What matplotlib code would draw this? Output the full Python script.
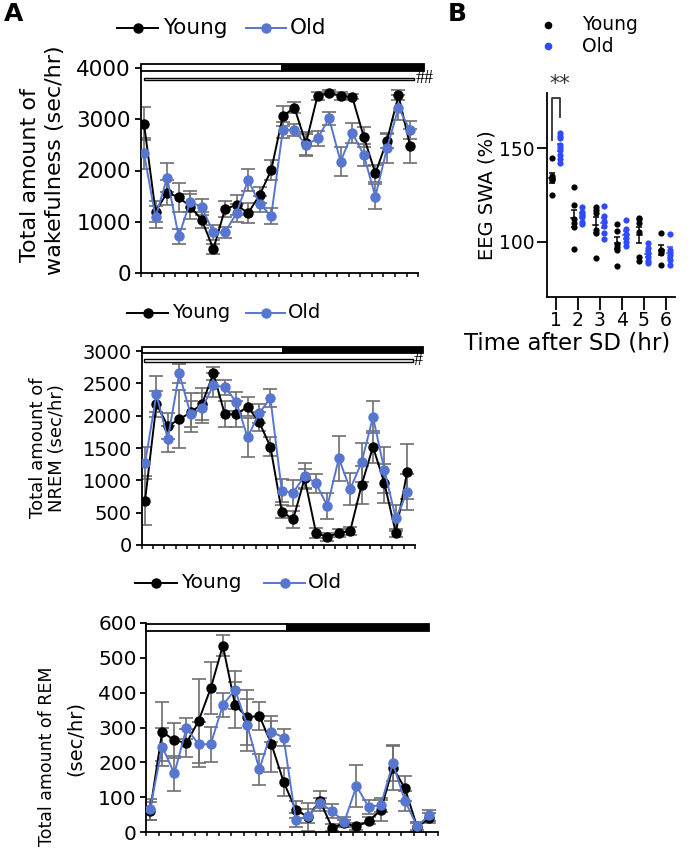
import numpy as np
import matplotlib
matplotlib.use("Agg")
import matplotlib.pyplot as plt
from matplotlib.patches import Rectangle
from matplotlib.lines import Line2D

plt.rcParams['font.family'] = ['DejaVu Sans']

# ---------------- data ----------------
hours = np.arange(24)

wake_young = [2917, 1200, 1569, 1478, 1297, 1037, 467, 1245, 1329, 1167, 1523, 2010,
              3060, 3228, 2528, 3455, 3520, 3455, 3436, 2658, 1945, 2580, 3468, 2483]
wake_young_err = [320, 200, 250, 280, 250, 150, 100, 160, 200, 200, 150, 200,
                  200, 110, 230, 80, 50, 80, 50, 200, 160, 150, 100, 330]
wake_old = [2334, 1089, 1860, 713, 1394, 1284, 791, 791, 1167, 1815, 1348, 1115,
            2788, 2788, 2496, 2626, 3015, 2172, 2736, 2302, 1491, 2431, 3228, 2788]
wake_old_err = [300, 220, 280, 140, 200, 160, 150, 100, 180, 220, 150, 160,
                150, 120, 210, 150, 120, 280, 200, 220, 250, 280, 250, 180]

nrem_young = [686, 2180, 1840, 1943, 2050, 2180, 2654, 2020, 2020, 2138, 1906, 1520,
              515, 397, 1031, 190, 119, 190, 217, 928, 1520, 954, 190, 1134]
nrem_young_err = [380, 200, 200, 450, 300, 250, 100, 200, 200, 150, 150, 150,
                  100, 130, 150, 80, 60, 60, 60, 300, 250, 300, 60, 430]
nrem_old = [1263, 2330, 1639, 2654, 2020, 2113, 2474, 2438, 2216, 1665, 2036, 2268,
            839, 809, 1071, 954, 603, 1340, 865, 1278, 1979, 1160, 413, 815]
nrem_old_err = [250, 280, 200, 150, 200, 230, 180, 120, 150, 300, 150, 140,
                180, 200, 200, 150, 200, 350, 250, 300, 250, 350, 200, 280]

rem_young = [60, 288, 263, 256, 319, 413, 535, 365, 329, 334, 252, 144,
             64, 43, 89, 12, 25, 16, 32, 62, 185, 125, 14, 40]
rem_young_err = [25, 85, 50, 40, 120, 75, 30, 65, 80, 40, 80, 40,
                 25, 40, 30, 10, 10, 10, 10, 30, 65, 35, 15, 15]
rem_old = [65, 245, 168, 298, 252, 252, 365, 408, 307, 180, 288, 271,
           35, 45, 84, 60, 29, 132, 72, 77, 197, 89, 16, 48]
rem_old_err = [30, 55, 50, 30, 65, 50, 35, 55, 75, 45, 30, 25,
               20, 20, 15, 20, 15, 60, 20, 20, 50, 30, 10, 15]

swa_hours = [1, 2, 3, 4, 5, 6]
swa_young = [[144.6, 135.2, 133.9, 133.0, 125.0, 133.5],
             [129.4, 119.6, 112.2, 110.2, 108.0, 96.1],
             [118.7, 117.0, 115.5, 106.3, 104.8, 91.1],
             [109.5, 105.9, 99.0, 97.3, 95.6, 87.2],
             [112.5, 111.9, 110.2, 105.4, 92.0, 89.8],
             [104.8, 95.6, 94.8, 94.1, 87.5]]
swa_old = [[158.0, 156.6, 155.4, 151.8, 149.1, 146.4, 144.1, 142.0],
           [118.7, 116.1, 114.8, 113.4, 110.7, 109.3],
           [119.3, 113.8, 111.2, 108.4, 104.8, 101.3],
           [111.6, 106.6, 104.1, 101.8, 99.7, 97.7],
           [99.1, 96.5, 94.1, 92.0, 89.8, 88.8],
           [104.1, 95.6, 92.9, 90.2, 87.5]]

# ---------------- figure ----------------
W, H = 691, 849
fig = plt.figure(figsize=(W / 100, H / 100), dpi=100)

BLACK = 'black'
BLUE = '#5776CF'
BRIGHT_BLUE = '#2F4BFF'
GRAY = '#6E6E6E'


def px_axes(x0, y0, x1, y1):
    return fig.add_axes([x0 / W, 1 - y1 / H, (x1 - x0) / W, (y1 - y0) / H])


def ftext(x, y, s, **kw):
    return fig.text(x / W, 1 - y / H, s, **kw)


def legend_row(y, yx0, yx1, ytx, ox0, ox1, otx, fs):
    for (x0, x1, tx, col, lab) in [(yx0, yx1, ytx, BLACK, 'Young'),
                                   (ox0, ox1, otx, BLUE, 'Old')]:
        fig.add_artist(Line2D([x0 / W, x1 / W], [1 - y / H] * 2, color=col, lw=1.4))
        fig.add_artist(Line2D([(x0 + x1) / 2 / W], [1 - y / H], marker='o',
                              color=col, markersize=6.5, lw=0))
        ftext(tx, y, lab, fontsize=fs, va='center', ha='left')


def line_panel(ax, young, yerr, old, oerr, ymax, yticks, fs, xlim, spine_right):
    ax.errorbar(hours, young, yerr=yerr, fmt='none', ecolor=GRAY, elinewidth=1.2,
                capsize=5, capthick=1.2, zorder=1)
    ax.errorbar(hours, old, yerr=oerr, fmt='none', ecolor=GRAY, elinewidth=1.2,
                capsize=5, capthick=1.2, zorder=1)
    ax.plot(hours, young, '-o', color=BLACK, lw=1.4, markersize=6.5, zorder=3)
    ax.plot(hours, old, '-o', color=BLUE, lw=1.4, markersize=6.5, zorder=4)
    ax.set_xlim(*xlim)
    ax.set_ylim(0, ymax)
    ax.set_yticks(yticks)
    ax.set_xticks(np.arange(25) - 0.3)
    ax.set_xticklabels([])
    for s in ['top', 'right']:
        ax.spines[s].set_visible(False)
    for s in ['left', 'bottom']:
        ax.spines[s].set_linewidth(1.3)
    ax.spines['bottom'].set_bounds(xlim[0], spine_right)
    ax.tick_params(axis='y', direction='out', length=4, width=1.3, labelsize=fs, pad=3)
    ax.tick_params(axis='x', direction='out', length=2.8, width=1.1)
    ax.patch.set_alpha(0)


def light_dark_bar(ax, x0, xm, x1, yb, yt):
    tr = ax.get_xaxis_transform()
    ax.add_patch(Rectangle((x0, yb), xm - x0, yt - yb, transform=tr, facecolor='white',
                           edgecolor='black', lw=1.3, clip_on=False, zorder=5))
    ax.add_patch(Rectangle((xm, yb), x1 - xm, yt - yb, transform=tr, facecolor='black',
                           edgecolor='black', lw=1.3, clip_on=False, zorder=5))


def double_line(ax, x0, x1, yb, yt, mark, xm):
    tr = ax.get_xaxis_transform()
    ax.add_patch(Rectangle((x0, yb), x1 - x0, yt - yb, transform=tr, facecolor='white',
                           edgecolor='black', lw=1.0, clip_on=False, zorder=5))
    ax.text(xm, (yb + yt) / 2, mark, transform=tr, fontsize=13,
            family='Liberation Serif', va='center', ha='left')


# ---- Wakefulness ----
ax1 = px_axes(140.5, 68, 425.1, 273)
line_panel(ax1, wake_young, wake_young_err, wake_old, wake_old_err, 4000,
           [0, 1000, 2000, 3000, 4000], 15.5, (-0.3, 24.3), 23.7)
light_dark_bar(ax1, -0.3, 11.95, 24.2, 0.987, 1.018)
double_line(ax1, 0.0, 23.3, 0.940, 0.953, '##', 23.45)
legend_row(28, 117, 158, 163, 246, 286, 290, 15.5)
ftext(30, 175, 'Total amount of', rotation=90, ha='center', va='center', fontsize=16)
ftext(55, 160, 'wakefulness (sec/hr)', rotation=90, ha='center', va='center', fontsize=16)

# ---- NREM ----
ax2 = px_axes(141.6, 351, 422.0, 545)
line_panel(ax2, nrem_young, nrem_young_err, nrem_old, nrem_old_err, 3000,
           [0, 500, 1000, 1500, 2000, 2500, 3000], 14, (-0.3, 24.3), 23.7)
light_dark_bar(ax2, -0.3, 12.1, 24.4, 0.991, 1.019)
double_line(ax2, -0.1, 23.5, 0.943, 0.957, '#', 23.6)
legend_row(313, 127, 168, 172, 246, 285, 288, 14)
ftext(38, 448, 'Total amount of', rotation=90, ha='center', va='center', fontsize=13)
ftext(57.5, 448, 'NREM (sec/hr)', rotation=90, ha='center', va='center', fontsize=13)

# ---- REM ----
ax3 = px_axes(146.4, 623, 437.8, 832)
line_panel(ax3, rem_young, rem_young_err, rem_old, rem_old_err, 600,
           [0, 100, 200, 300, 400, 500, 600], 14.5, (-0.3, 23.7), 23.7)
light_dark_bar(ax3, -0.3, 11.26, 23.0, 0.963, 0.997)
legend_row(583, 135, 177, 181, 264, 305, 308, 14.5)
ftext(47, 666, 'Total amount of REM', rotation=90, ha='center', va='top', fontsize=12.5)
ftext(75, 738, '(sec/hr)', rotation=90, ha='center', va='center', fontsize=14)

# ---- Panel B ----
axb = px_axes(546.7, 92.7, 675, 296.7)
off = 0.2
for k, yv, ov in zip(swa_hours, swa_young, swa_old):
    yv = np.array(yv)
    ov = np.array(ov)
    axb.scatter(np.full(len(yv), k - off), yv, s=20, color=BLACK, zorder=3, lw=0)
    axb.scatter(np.full(len(ov), k + off), ov, s=20, color=BRIGHT_BLUE, zorder=3, lw=0)
    for xc, vals, col in [(k - off, yv, BLACK), (k + off, ov, BRIGHT_BLUE)]:
        m = vals.mean()
        se = vals.std(ddof=1) / np.sqrt(len(vals))
        axb.errorbar([xc], [m], yerr=[se], fmt='none', ecolor=col, elinewidth=1.1,
                     capsize=2.5, capthick=1.1, zorder=4)
        axb.plot([xc - 0.13, xc + 0.13], [m, m], color=col, lw=1.1, zorder=4)
axb.set_xlim(0.575, 6.42)
axb.set_ylim(70.5, 179.8)
axb.set_xticks(swa_hours)
axb.set_yticks([100, 150])
for s in ['top', 'right']:
    axb.spines[s].set_visible(False)
for s in ['left', 'bottom']:
    axb.spines[s].set_linewidth(1.3)
axb.tick_params(axis='y', direction='out', length=7.5, width=1.3, labelsize=13.5, pad=1)
axb.tick_params(axis='x', direction='out', length=9, width=1.3, labelsize=13.5, pad=1)
axb.set_ylabel('EEG SWA (%)', fontsize=14, labelpad=2)
axb.patch.set_alpha(0)
ftext(567, 343, 'Time after SD (hr)', fontsize=16.5, ha='center', va='center')
# significance bracket
axb.plot([1 - off, 1 - off, 1 + off, 1 + off], [154.4, 176.9, 176.9, 166.8],
         color='#333333', lw=1.3, clip_on=False)
ftext(560, 84, '**', fontsize=15, ha='center', va='center', color='#333333')

# legend B
fig.add_artist(Line2D([548 / W], [1 - 25 / H], marker='o', color=BLACK, markersize=4.5, lw=0))
fig.add_artist(Line2D([548 / W], [1 - 46 / H], marker='o', color=BRIGHT_BLUE, markersize=4.5, lw=0))
ftext(582, 25, 'Young', fontsize=13.5, va='center', ha='left')
ftext(582, 46, 'Old', fontsize=13.5, va='center', ha='left')

# panel letters
ftext(4, 14, 'A', fontsize=18, fontweight='bold', va='center', ha='left')
ftext(448, 14, 'B', fontsize=18, fontweight='bold', va='center', ha='left')

fig.savefig('out.png', dpi=100)
